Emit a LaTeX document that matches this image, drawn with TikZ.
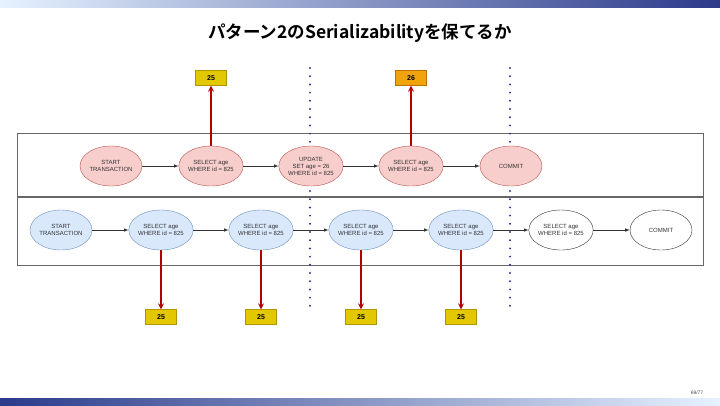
\documentclass[tikz,border=0pt]{standalone}
\usepackage{fontspec}
\setmainfont{Liberation Sans}
\newfontfamily\jpfont{Noto Sans CJK JP}[BoldFont={* Bold}]
\usetikzlibrary{shapes.geometric, arrows, positioning}
\definecolor{pinkfill}{HTML}{F8CECC}
\definecolor{pinkline}{HTML}{B85450}
\definecolor{bluefill}{HTML}{DAE8FC}
\definecolor{blueline}{HTML}{6C8EBF}
\definecolor{valyellow}{HTML}{E3C800}
\definecolor{valyellowline}{HTML}{B09500}
\definecolor{valorange}{HTML}{F0A30A}
\definecolor{valorangeline}{HTML}{BD7000}
\definecolor{readred}{HTML}{B20000}
\definecolor{dotblue}{HTML}{2A3595}
\definecolor{bardark}{HTML}{2B3A8A}
\definecolor{barmid}{HTML}{3A6AE0}
\definecolor{barlight}{HTML}{E6F2FF}
\tikzstyle{txa} = [ellipse, minimum width=62pt, minimum height=40pt, inner sep=0pt, align=center, text=black!80, font=\fontsize{6}{7}\selectfont, draw=pinkline, fill=pinkfill]
\tikzstyle{txb} = [txa, draw=blueline, fill=bluefill]
\tikzstyle{txc} = [txa, draw=black!80, fill=white]
\tikzstyle{val} = [rectangle, minimum width=31pt, minimum height=15pt, inner sep=0pt, font=\bfseries\fontsize{7}{8}\selectfont, draw=valyellowline, fill=valyellow]
\tikzstyle{flow} = [->, >=latex, line width=0.6pt, black!80]
\tikzstyle{readval} = [->, >=stealth, line width=1.6pt, draw=readred]
\tikzstyle{sep} = [dotblue, line width=2.2pt, line cap=round, dash pattern=on 0pt off 8.2pt]
\tikzstyle{lane} = [draw=black!60, line width=0.8pt]

\begin{document}
\begin{tikzpicture}[x=1pt, y=-1pt, node distance=100pt]

    \useasboundingbox (0,0) rectangle (720,405);
    \shade[left color=barlight, middle color=barmid, right color=bardark] (0,0) rectangle (720,7);
    \shade[left color=bardark, middle color=barmid, right color=barlight] (0,398) rectangle (720,405);
    \node (title) at (360,33) {\jpfont\bfseries\fontsize{17.5}{20}\selectfont パターン2のSerializabilityを保てるか};
    \node (page) [font=\fontsize{5}{6}\selectfont, text=black!70] at (697,393) {69/77};

    % lanes
    \draw [lane] (17,133) rectangle (703,196.5);
    \draw [lane] (17,197.5) rectangle (703,265);

    % serialization points
    \coordinate (s1top) at (310,68);
    \coordinate (s1bot) at (310,309);
    \coordinate (s2top) at (510,68);
    \coordinate (s2bot) at (510,309);
    \draw [sep] (s1top) -- (s1bot);
    \draw [sep] (s2top) -- (s2bot);

    % transaction A
    \node (a1) [txa] at (111,166) {START\\TRANSACTION};
    \node (a2) [txa, right of=a1] {SELECT age\\WHERE id = 825};
    \node (a3) [txa, right of=a2] {UPDATE\\SET age = 26\\WHERE id = 825};
    \node (a4) [txa, right of=a3] {SELECT age\\WHERE id = 825};
    \node (a5) [txa, right of=a4] {COMMIT};

    % transaction B
    \node (b1) [txb] at (61,230) {START\\TRANSACTION};
    \node (b2) [txb, right of=b1] {SELECT age\\WHERE id = 825};
    \node (b3) [txb, right of=b2] {SELECT age\\WHERE id = 825};
    \node (b4) [txb, right of=b3] {SELECT age\\WHERE id = 825};
    \node (b5) [txb, right of=b4] {SELECT age\\WHERE id = 825};
    \node (b6) [txc, right of=b5] {SELECT age\\WHERE id = 825};
    \node (b7) [txc, right of=b6] {COMMIT};

    % values read
    \node (ra2) [val, above of=a2, node distance=88pt] {25};
    \node (ra4) [val, above of=a4, node distance=88pt, draw=valorangeline, fill=valorange] {26};
    \node (rb2) [val, below of=b2, node distance=87pt] {25};
    \node (rb3) [val, below of=b3, node distance=87pt] {25};
    \node (rb4) [val, below of=b4, node distance=87pt] {25};
    \node (rb5) [val, below of=b5, node distance=87pt] {25};

    \draw [flow] (a1) -- (a2);
    \draw [flow] (a2) -- (a3);
    \draw [flow] (a3) -- (a4);
    \draw [flow] (a4) -- (a5);
    \draw [flow] (b1) -- (b2);
    \draw [flow] (b2) -- (b3);
    \draw [flow] (b3) -- (b4);
    \draw [flow] (b4) -- (b5);
    \draw [flow] (b5) -- (b6);
    \draw [flow] (b6) -- (b7);

    \draw [readval] (a2) -- (ra2);
    \draw [readval] (a4) -- (ra4);
    \draw [readval] (b2) -- (rb2);
    \draw [readval] (b3) -- (rb3);
    \draw [readval] (b4) -- (rb4);
    \draw [readval] (b5) -- (rb5);

\end{tikzpicture}
\end{document}
